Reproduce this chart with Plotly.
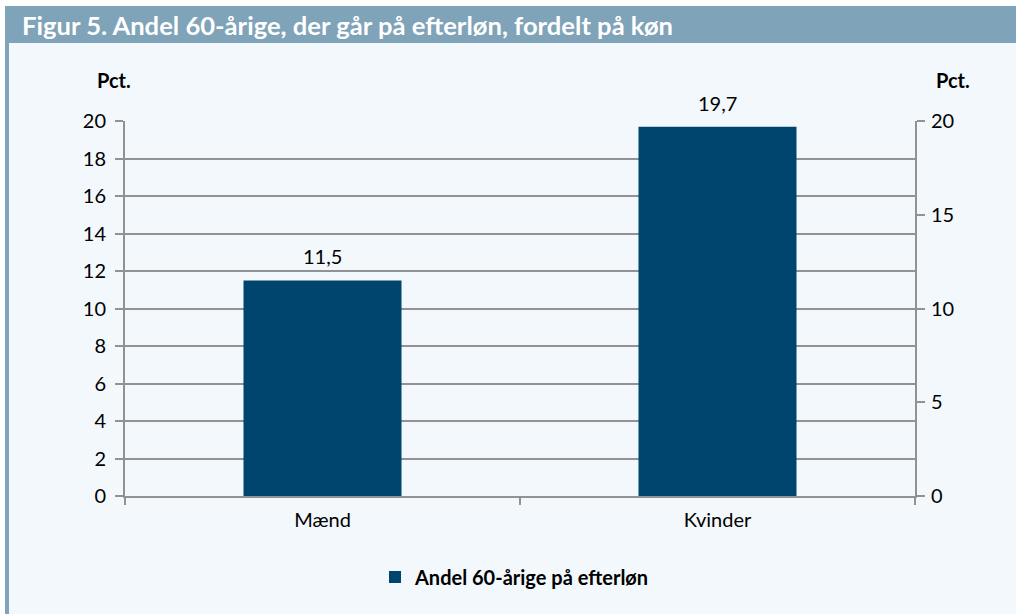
import plotly.graph_objects as go

# data
categories = ["Mænd", "Kvinder"]
values = [11.5, 19.7]
series_name = "Andel 60-årige på efterløn"
title_text = "Figur 5. Andel 60-årige, der går på efterløn, fordelt på køn"

W, H = 1016, 614
L, R, T, B = 125, 915, 121, 496  # plot area in pixels

BAR = "#00456e"
FRAME = "#7fa3b8"
BG = "#f3f8fc"
GRID = "#929292"
FONT = "Lato"


def px_x(p):
    return (p - L) / (R - L)


def px_y(p):
    return (B - p) / (B - T)


fig = go.Figure()
fig.add_trace(go.Bar(
    x=categories, y=values, name=series_name,
    marker=dict(color=BAR, line=dict(width=0)),
    width=0.4,
))
# invisible trace so the right axis is drawn
fig.add_trace(go.Scatter(x=categories, y=values, yaxis="y2", mode="none",
                         showlegend=False, hoverinfo="skip"))

# value labels above the bars
for c, v in zip(categories, values):
    fig.add_annotation(x=c, y=v, text=f"{v:.1f}".replace(".", ","),
                       showarrow=False, yanchor="bottom", yshift=10,
                       font=dict(size=20, color="black", family=FONT))

fig.update_layout(
    width=W, height=H,
    margin=dict(l=L, r=W - R, t=T, b=H - B),
    paper_bgcolor="white",
    plot_bgcolor=BG,
    separators=",.",
    font=dict(family=FONT, size=20, color="black"),
    xaxis=dict(
        type="category", tickson="boundaries", ticks="outside", ticklen=7,
        tickcolor=GRID, tickwidth=2, showline=True, linecolor=GRID, linewidth=2,
        showgrid=False, tickfont=dict(size=20), fixedrange=True,
        ticklabelstandoff=5,
    ),
    yaxis=dict(
        range=[0, 20], dtick=2, ticks="outside", ticklen=8, tickcolor=GRID,
        tickwidth=2, showline=True, linecolor=GRID, linewidth=2,
        showgrid=True, gridcolor=GRID, gridwidth=2, zeroline=False,
        tickfont=dict(size=20), ticklabelstandoff=5,
    ),
    yaxis2=dict(
        range=[0, 20], dtick=5, overlaying="y", side="right", ticks="outside",
        ticklen=8, tickcolor=GRID, tickwidth=2, showline=True, linecolor=GRID,
        linewidth=2, showgrid=False, zeroline=False, tickfont=dict(size=20),
        ticklabelstandoff=2,
    ),
    showlegend=True,
    legend=dict(
        orientation="h", x=px_x(515), xanchor="center", y=px_y(577),
        yanchor="middle",
        font=dict(size=20, color="black", family=FONT, weight="bold"),
        bgcolor="rgba(0,0,0,0)", itemwidth=30,
    ),
)

# frame: border colour behind, light panel inside, title bar on top
fig.add_shape(type="rect", xref="paper", yref="paper", layer="below",
              x0=px_x(5), x1=px_x(W), y0=px_y(H), y1=px_y(6),
              fillcolor=FRAME, line=dict(width=0))
fig.add_shape(type="rect", xref="paper", yref="paper", layer="below",
              x0=px_x(9), x1=px_x(W), y0=px_y(H), y1=px_y(43),
              fillcolor=BG, line=dict(width=0))

fig.add_annotation(text=title_text, xref="paper", yref="paper",
                   x=px_x(20), y=px_y(25), xanchor="left", yanchor="middle",
                   showarrow=False,
                   font=dict(size=25.6, color="white", family=FONT, weight="bold"))
fig.add_annotation(text="Pct.", xref="paper", yref="paper",
                   x=px_x(114), y=px_y(80), xanchor="center", yanchor="middle",
                   showarrow=False, font=dict(size=20, family=FONT, weight="bold"))
fig.add_annotation(text="Pct.", xref="paper", yref="paper",
                   x=px_x(953), y=px_y(80), xanchor="center", yanchor="middle",
                   showarrow=False, font=dict(size=20, family=FONT, weight="bold"))

fig.write_html("out.html", config={"displayModeBar": False},
               post_script="document.body.style.margin='0';")
